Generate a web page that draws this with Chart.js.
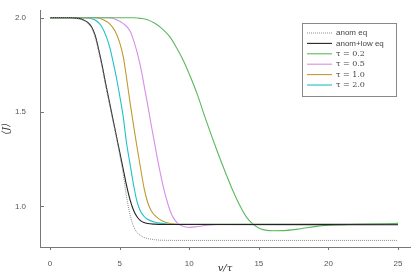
<!DOCTYPE html>
<html>
<head>
<meta charset="utf-8">
<script src="https://cdn.jsdelivr.net/npm/chart.js@4.4.1/dist/chart.umd.min.js"></script>
<style>
  html, body { margin: 0; padding: 0; background: #fff; }
  #wrap { position: relative; width: 417px; height: 278px; }
</style>
</head>
<body>
<div id="wrap"><canvas id="chart" width="417" height="278"></canvas></div>
<script>
// series: v/tau on x, <J> on y
const vAnomEq = [0, 1.5, 2, 2.25, 2.5, 2.75, 3, 3.25, 3.5, 3.75, 4, 4.25, 4.5, 4.75, 5, 5.25, 5.5, 5.75, 6, 6.25, 6.5, 6.75, 7, 7.5, 8, 10, 25];
const jAnomEq = [2.0, 2.0, 1.996, 1.991, 1.982, 1.968, 1.945, 1.895, 1.82, 1.735, 1.64, 1.55, 1.46, 1.37, 1.275, 1.175, 1.05, 0.955, 0.895, 0.862, 0.846, 0.836, 0.83, 0.824, 0.821, 0.82, 0.82];

const vAnomLow = [0, 1.5, 2, 2.25, 2.5, 2.75, 3, 3.25, 3.5, 3.75, 4, 4.25, 4.5, 4.75, 5, 5.25, 5.5, 5.75, 6, 6.25, 6.5, 6.75, 7, 7.5, 8, 10, 25];
const jAnomLow = [2.0, 2.0, 1.997, 1.993, 1.985, 1.973, 1.95, 1.905, 1.83, 1.745, 1.65, 1.56, 1.47, 1.38, 1.29, 1.20, 1.11, 1.035, 0.98, 0.945, 0.925, 0.915, 0.91, 0.906, 0.904, 0.904, 0.903];

const vTau02 = [0, 6, 6.5, 7, 7.5, 8, 8.6, 9.1, 9.6, 10.1, 10.6, 11.1, 11.6, 12.1, 12.6, 13.1, 13.6, 14.1, 14.6, 15.1, 15.6, 16, 17, 18, 19, 20, 22, 25];
const jTau02 = [2.0, 2.0, 1.997, 1.99, 1.972, 1.945, 1.90, 1.84, 1.77, 1.685, 1.59, 1.48, 1.375, 1.275, 1.18, 1.09, 1.01, 0.945, 0.905, 0.882, 0.873, 0.871, 0.873, 0.882, 0.893, 0.90, 0.905, 0.91];

const vTau05 = [0, 4.2, 4.79, 5.25, 5.75, 6.05, 6.35, 6.6, 6.82, 7, 7.25, 7.5, 7.75, 8, 8.25, 8.5, 8.75, 9, 9.25, 9.5, 9.75, 10.06, 10.5, 11, 11.5, 12, 25];
const jTau05 = [2.0, 2.0, 1.99, 1.97, 1.93, 1.87, 1.79, 1.705, 1.616, 1.545, 1.44, 1.34, 1.24, 1.15, 1.07, 1.005, 0.955, 0.925, 0.906, 0.896, 0.891, 0.889, 0.892, 0.898, 0.902, 0.904, 0.905];

const vTau10 = [0, 3.3, 3.83, 4.25, 4.67, 5, 5.27, 5.5, 5.75, 6, 6.25, 6.5, 6.75, 7, 7.25, 7.5, 7.75, 8, 8.5, 9, 9.5, 25];
const jTau10 = [2.0, 2.0, 1.99, 1.97, 1.93, 1.87, 1.79, 1.68, 1.55, 1.43, 1.315, 1.205, 1.10, 1.025, 0.98, 0.955, 0.938, 0.926, 0.912, 0.906, 0.905, 0.905];

const vTau20 = [0, 2.5, 3, 3.35, 3.7, 4.07, 4.3, 4.55, 4.75, 5, 5.25, 5.5, 5.75, 6, 6.25, 6.5, 6.75, 7, 7.5, 8, 9, 25];
const jTau20 = [2.0, 2.0, 1.995, 1.983, 1.955, 1.895, 1.84, 1.76, 1.69, 1.59, 1.48, 1.335, 1.225, 1.115, 1.025, 0.975, 0.948, 0.932, 0.917, 0.91, 0.905, 0.905];

const seriesLabels = ['anom eq', 'anom+low eq', 'τ = 0.2', 'τ = 0.5', 'τ = 1.0', 'τ = 2.0'];
const xTicks = [0, 5, 10, 15, 20, 25];
const yTicks = [1.0, 1.5, 2.0];

const pts = (xs, ys) => xs.map((x, i) => ({ x: x, y: ys[i] }));

const tickColor = '#777';
const labelFont = '8px "Liberation Sans", Arial, sans-serif';

// legend box drawn inside the plot, top right
const boxLegend = {
  id: 'boxLegend',
  afterDraw(chart) {
    const ctx = chart.ctx;
    const x0 = 302, y0 = 23, w = 94, h = 73;
    ctx.save();
    ctx.fillStyle = '#fff';
    ctx.fillRect(x0, y0, w, h);
    ctx.strokeStyle = '#888';
    ctx.lineWidth = 1;
    ctx.strokeRect(x0 + 0.5, y0 + 0.5, w, h);
    chart.data.datasets.forEach((ds, i) => {
      const y = y0 + 10 + i * 10.4;
      ctx.strokeStyle = ds.borderColor;
      ctx.lineWidth = ds.borderWidth;
      ctx.setLineDash(ds.borderDash || []);
      ctx.beginPath();
      ctx.moveTo(x0 + 5, y);
      ctx.lineTo(x0 + 30, y);
      ctx.stroke();
      ctx.setLineDash([]);
      ctx.fillStyle = '#444';
      ctx.textBaseline = 'middle';
      ctx.font = i < 2 ? labelFont : '8px "DejaVu Serif", "Liberation Serif", serif';
      ctx.fillText(ds.label, x0 + 34, y);
    });
    ctx.restore();
  }
};

// small inward tick marks, like the original
const innerTicks = {
  id: 'innerTicks',
  afterDraw(chart) {
    const ctx = chart.ctx;
    const a = chart.chartArea;
    const xs = chart.scales.x, ys = chart.scales.y;
    ctx.save();
    ctx.strokeStyle = tickColor;
    ctx.lineWidth = 1;
    ctx.beginPath();
    xTicks.forEach(t => {
      const px = Math.round(xs.getPixelForValue(t)) + 0.5;
      ctx.moveTo(px, a.bottom);
      ctx.lineTo(px, a.bottom + 3);
    });
    yTicks.forEach(t => {
      const py = Math.round(ys.getPixelForValue(t)) + 0.5;
      ctx.moveTo(a.left, py);
      ctx.lineTo(a.left + 4, py);
    });
    ctx.stroke();
    ctx.restore();
  }
};

new Chart(document.getElementById('chart'), {
  type: 'line',
  data: {
    datasets: [
      { label: seriesLabels[0], data: pts(vAnomEq, jAnomEq), borderColor: '#8c8c8c', borderWidth: 1, borderDash: [1, 1] },
      { label: seriesLabels[1], data: pts(vAnomLow, jAnomLow), borderColor: '#222', borderWidth: 1.1 },
      { label: seriesLabels[2], data: pts(vTau02, jTau02), borderColor: '#5cb85c', borderWidth: 1.1 },
      { label: seriesLabels[3], data: pts(vTau05, jTau05), borderColor: '#d68ee6', borderWidth: 1.1 },
      { label: seriesLabels[4], data: pts(vTau10, jTau10), borderColor: '#bf9a2e', borderWidth: 1.1 },
      { label: seriesLabels[5], data: pts(vTau20, jTau20), borderColor: '#1fc0c8', borderWidth: 1.1 }
    ]
  },
  options: {
    responsive: false,
    animation: false,
    layout: { padding: { top: 8, right: 7, left: 0, bottom: 0 } },
    elements: {
      point: { radius: 0 },
      line: { cubicInterpolationMode: 'monotone', fill: false }
    },
    plugins: {
      legend: { display: false },
      tooltip: { enabled: false }
    },
    scales: {
      x: {
        type: 'linear',
        min: -0.72,
        max: 25.86,
        afterBuildTicks: s => { s.ticks = xTicks.map(v => ({ value: v })); },
        afterFit: s => { s.height = 31; },
        grid: { display: false },
        border: { color: tickColor, width: 1 },
        ticks: { color: '#555', font: { size: 8, family: '"Liberation Sans", Arial, sans-serif' }, padding: 4, maxRotation: 0, callback: v => String(v) },
        title: { display: true, text: 'v/τ', color: '#333', padding: { top: 0, bottom: 4 }, font: { size: 10, style: 'italic', family: '"DejaVu Serif", "Liberation Serif", serif' } }
      },
      y: {
        type: 'linear',
        min: 0.785,
        max: 2.037,
        afterBuildTicks: s => { s.ticks = yTicks.map(v => ({ value: v })); },
        afterFit: s => { s.width = 40; },
        grid: { display: false },
        border: { color: tickColor, width: 1 },
        ticks: { color: '#555', font: { size: 8, family: '"Liberation Sans", Arial, sans-serif' }, padding: 6, callback: v => v.toFixed(1) },
        title: { display: true, text: '⟨J⟩', color: '#333', padding: { top: 0, bottom: 0 }, font: { size: 10, style: 'italic', family: '"DejaVu Serif", "Liberation Serif", serif' } }
      }
    }
  },
  plugins: [innerTicks, boxLegend]
});
</script>
</body>
</html>
